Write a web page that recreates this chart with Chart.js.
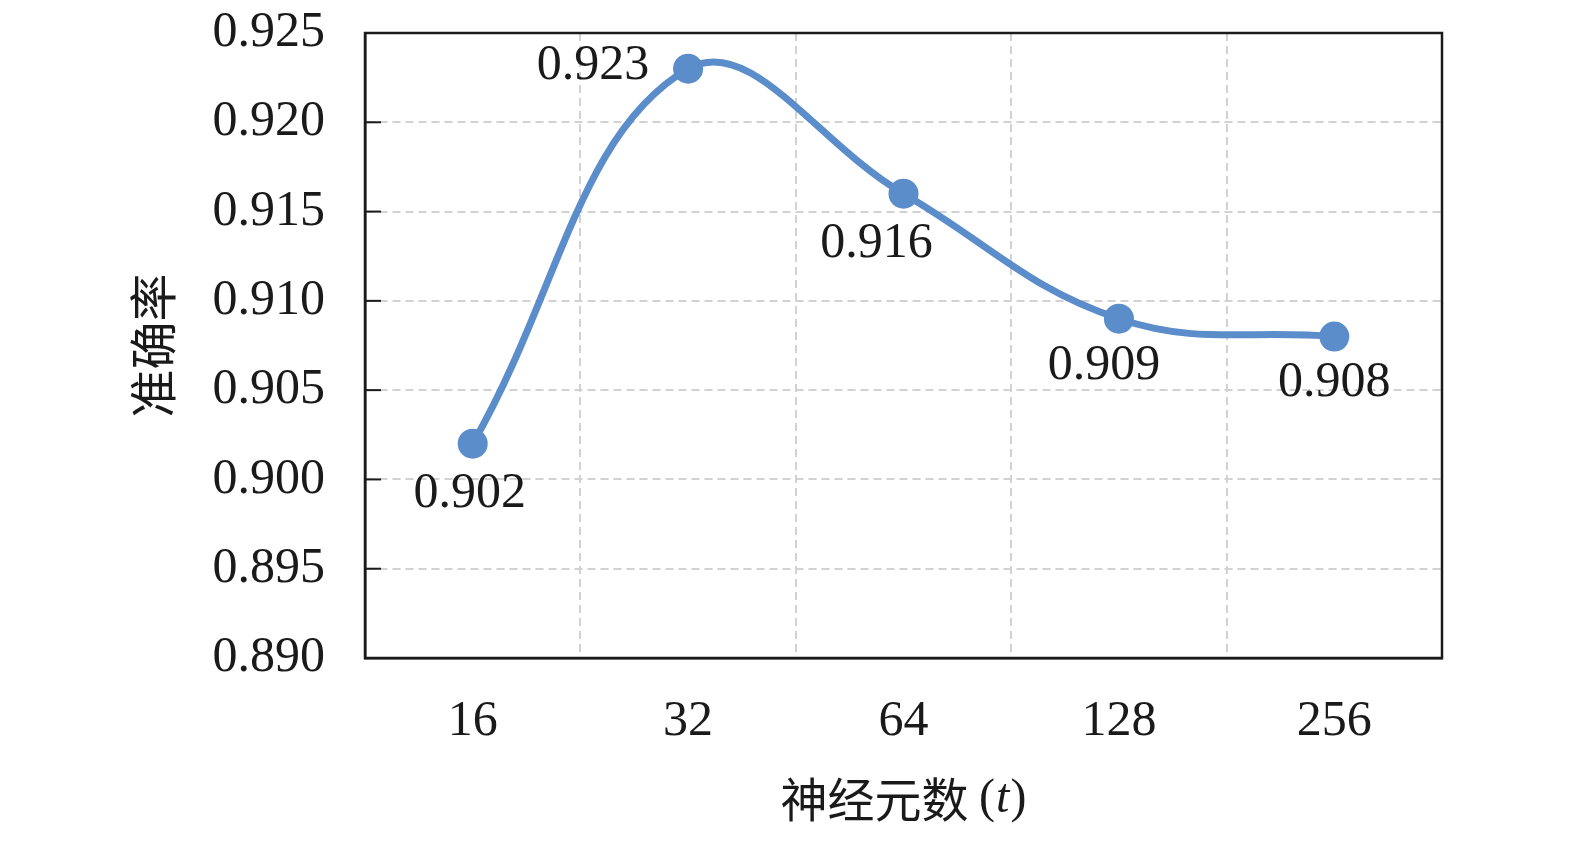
<!DOCTYPE html>
<html>
<head>
<meta charset="utf-8">
<script src="https://cdn.jsdelivr.net/npm/chart.js"></script>
<style>
  html, body { margin: 0; padding: 0; background: #fff; }
  canvas { display: block; }
</style>
</head>
<body>
<canvas id="accChart" width="1575" height="841"></canvas>
<script>
const neurons = ['16', '32', '64', '128', '256'];
const accuracy = [0.902, 0.923, 0.916, 0.909, 0.908];
const yTicks = [0.890, 0.895, 0.900, 0.905, 0.910, 0.915, 0.920, 0.925];
const yTitle = '准确率';
const xTitleText = '神经元数 ';
const xTitleVar = 't';

const SERIF = "'Liberation Serif', 'Noto Sans CJK SC', serif";
const CJK = "'Noto Sans CJK SC', 'Liberation Serif'";
const blue = '#5b8dcb';
const ink = '#1a1a1a';

// label placement relative to each point (dx, dy)
const labelOffsets = [[-3, 50], [-95, -3], [-27, 50], [-15, 47], [0, 46]];

const framePlugin = {
    id: 'frame',
    afterDraw(chart) {
        const { ctx, chartArea: a } = chart;
        const ys = chart.scales.y;
        ctx.save();
        ctx.strokeStyle = ink;
        ctx.lineWidth = 2.5;
        ctx.strokeRect(a.left, a.top, a.right - a.left, a.bottom - a.top);
        // inward tick marks on the y axis
        ctx.lineWidth = 2;
        yTicks.forEach(v => {
            const y = ys.getPixelForValue(v);
            ctx.beginPath();
            ctx.moveTo(a.left, y);
            ctx.lineTo(a.left + 16, y);
            ctx.stroke();
        });

        // data labels
        const meta = chart.getDatasetMeta(0);
        ctx.fillStyle = ink;
        ctx.font = '50px ' + SERIF;
        ctx.textAlign = 'center';
        ctx.textBaseline = 'middle';
        meta.data.forEach((pt, i) => {
            const o = labelOffsets[i];
            ctx.fillText(accuracy[i].toFixed(3), pt.x + o[0], pt.y + o[1]);
        });

        // x axis title, variable in italic
        const y = 799;
        ctx.textAlign = 'left';
        ctx.font = '47px ' + CJK;
        const w1 = ctx.measureText(xTitleText).width;
        ctx.font = "48px 'Liberation Serif'";
        const wp = ctx.measureText('(').width;
        const wc = ctx.measureText(')').width;
        ctx.font = "italic 48px 'Liberation Serif'";
        const wt = ctx.measureText(xTitleVar).width + 2;
        let x = (a.left + a.right) / 2 - (w1 + wp + wt + wc) / 2;
        ctx.font = '47px ' + CJK;
        ctx.fillText(xTitleText, x, y);
        x += w1;
        ctx.font = "48px 'Liberation Serif'";
        ctx.fillText('(', x, y);
        x += wp;
        ctx.font = "italic 48px 'Liberation Serif'";
        ctx.fillText(xTitleVar, x + 1, y);
        x += wt;
        ctx.font = "48px 'Liberation Serif'";
        ctx.fillText(')', x, y);
        ctx.restore();
    }
};

const ctx = document.getElementById('accChart').getContext('2d');
const accChart = new Chart(ctx, {
    type: 'line',
    data: {
        labels: neurons,
        datasets: [{
            data: accuracy,
            borderColor: blue,
            backgroundColor: blue,
            borderWidth: 7,
            tension: 0.4,
            pointRadius: 15,
            pointHoverRadius: 15,
            pointBorderWidth: 0,
            pointBackgroundColor: blue
        }]
    },
    options: {
        responsive: false,
        animation: false,
        devicePixelRatio: 1,
        layout: { autoPadding: false, padding: { left: 125, right: 133, top: 33, bottom: 15 } },
        plugins: {
            legend: { display: false },
            tooltip: { enabled: false }
        },
        scales: {
            x: {
                offset: true,
                grid: {
                    offset: true,
                    color: '#d2d2d2',
                    lineWidth: 2,
                    drawTicks: false
                },
                border: { display: true, color: ink, width: 2.5, dash: [8, 5] },
                ticks: {
                    color: ink,
                    font: { family: SERIF, size: 50 },
                    padding: 34
                },
                afterFit(s) { s.height = 168; s.paddingLeft = 0; s.paddingRight = 0; }
            },
            y: {
                min: 0.890,
                max: 0.925,
                afterBuildTicks(s) { s.ticks = yTicks.map(v => ({ value: v })); },
                grid: {
                    color: '#d2d2d2',
                    lineWidth: 2,
                    drawTicks: false
                },
                border: { display: true, color: ink, width: 2.5, dash: [8, 5] },
                ticks: {
                    color: ink,
                    font: { family: SERIF, size: 50 },
                    padding: 40,
                    callback: v => Number(v).toFixed(3)
                },
                title: {
                    display: true,
                    text: yTitle,
                    color: ink,
                    font: { family: CJK, size: 48, lineHeight: 1 },
                    padding: { top: 4, bottom: 4 }
                },
                afterFit(s) { s.width = 240; s.paddingTop = 0; s.paddingBottom = 0; }
            }
        }
    },
    plugins: [framePlugin]
});
</script>
</body>
</html>
